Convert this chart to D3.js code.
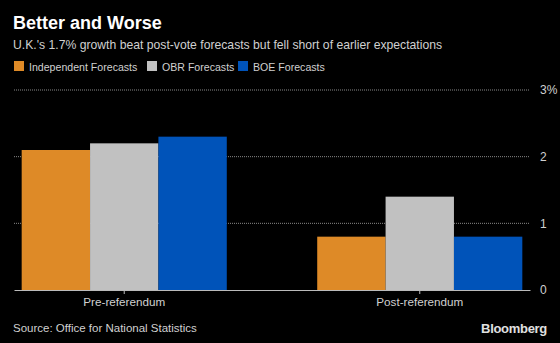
<!DOCTYPE html>
<html>
<head>
<meta charset="utf-8">
<script src="https://d3js.org/d3.v7.min.js"></script>
<style>
  body { margin: 0; background: #000; }
  svg { display: block; font-family: "Liberation Sans", Arial, sans-serif; }
</style>
</head>
<body>
<div id="chart"></div>
<script>
// data
var categories = ["Pre-referendum", "Post-referendum"];
var seriesNames = ["Independent Forecasts", "OBR Forecasts", "BOE Forecasts"];
var independent = [2.1, 0.8];
var obr = [2.2, 1.4];
var boe = [2.3, 0.8];
var yTicks = [0, 1, 2, 3];
var colors = ["#de8a27", "#c1c1c1", "#0053b9"];

var W = 560, H = 343;
var plotLeft = 14, plotRight = 530, plotTop = 90, plotBottom = 290;

var svg = d3.select("#chart").append("svg")
  .attr("width", W).attr("height", H);

svg.append("rect").attr("width", W).attr("height", H).attr("fill", "#000");

// titles
svg.append("text").attr("x", 13).attr("y", 29)
  .attr("fill", "#fff").attr("font-size", 18).attr("font-weight", "bold")
  .text("Better and Worse");
svg.append("text").attr("x", 13).attr("y", 49)
  .attr("fill", "#d0d0d0").attr("font-size", 12.2)
  .text("U.K.'s 1.7% growth beat post-vote forecasts but fell short of earlier expectations");

// legend
var legendX = [14, 147, 238];
var legend = svg.selectAll(".leg").data(seriesNames).enter().append("g")
  .attr("transform", function(d, i) { return "translate(" + legendX[i] + ",61)"; });
legend.append("rect").attr("width", 10).attr("height", 10)
  .attr("fill", function(d, i) { return colors[i]; });
legend.append("text").attr("x", 15).attr("y", 9.5)
  .attr("fill", "#d0d0d0").attr("font-size", 10.6)
  .text(function(d) { return d; });

// scales
var x0 = d3.scaleBand().domain(categories).range([plotLeft, plotRight])
  .paddingInner(0.306).paddingOuter(0.026);
var x1 = d3.scaleBand().domain(d3.range(seriesNames.length)).range([0, x0.bandwidth()]).padding(0);
var y = d3.scaleLinear().domain([0, 3]).range([plotBottom, plotTop]);

// gridlines
svg.selectAll(".grid").data(yTicks.filter(function(t) { return t > 0; })).enter().append("line")
  .attr("x1", plotLeft).attr("x2", plotRight)
  .attr("y1", function(d) { return y(d); }).attr("y2", function(d) { return y(d); })
  .attr("stroke", "#888").attr("stroke-width", 1).attr("stroke-dasharray", "1,1");

// bars
var series = [independent, obr, boe];
var groups = svg.selectAll(".grp").data(categories).enter().append("g")
  .attr("transform", function(d) { return "translate(" + x0(d) + ",0)"; });
groups.selectAll("rect").data(function(d, ci) {
    return series.map(function(s, si) { return {si: si, v: s[ci]}; });
  }).enter().append("rect")
  .attr("x", function(d) { return x1(d.si); })
  .attr("width", x1.bandwidth())
  .attr("y", function(d) { return y(d.v); })
  .attr("height", function(d) { return y(0) - y(d.v); })
  .attr("fill", function(d) { return colors[d.si]; });

// baseline + x axis
var xAxis = svg.append("g").attr("transform", "translate(0," + plotBottom + ")")
  .call(d3.axisBottom(x0).tickSize(4).tickSizeOuter(0).tickPadding(4));
xAxis.select(".domain").attr("stroke", "#bbb");
xAxis.selectAll(".tick line").attr("stroke", "#bbb");
xAxis.selectAll("text").attr("fill", "#d0d0d0").attr("font-size", 11.7)
  .attr("font-family", "Liberation Sans, Arial, sans-serif");

// y axis labels on right
var yAxis = svg.append("g").attr("transform", "translate(" + (plotRight + 7) + ",0)")
  .call(d3.axisRight(y).tickValues(yTicks).tickSize(0)
    .tickFormat(function(d) { return d === 3 ? "3%" : d; }));
yAxis.select(".domain").remove();
yAxis.selectAll("text").attr("fill", "#d0d0d0").attr("font-size", 12)
  .attr("font-family", "Liberation Sans, Arial, sans-serif");

// footer
svg.append("text").attr("x", 13).attr("y", 332)
  .attr("fill", "#d0d0d0").attr("font-size", 11.5)
  .text("Source: Office for National Statistics");
svg.append("text").attr("x", 547).attr("y", 333).attr("text-anchor", "end")
  .attr("fill", "#e0e0e0").attr("font-size", 13).attr("font-weight", "bold")
  .attr("letter-spacing", "-0.3")
  .text("Bloomberg");
</script>
</body>
</html>
